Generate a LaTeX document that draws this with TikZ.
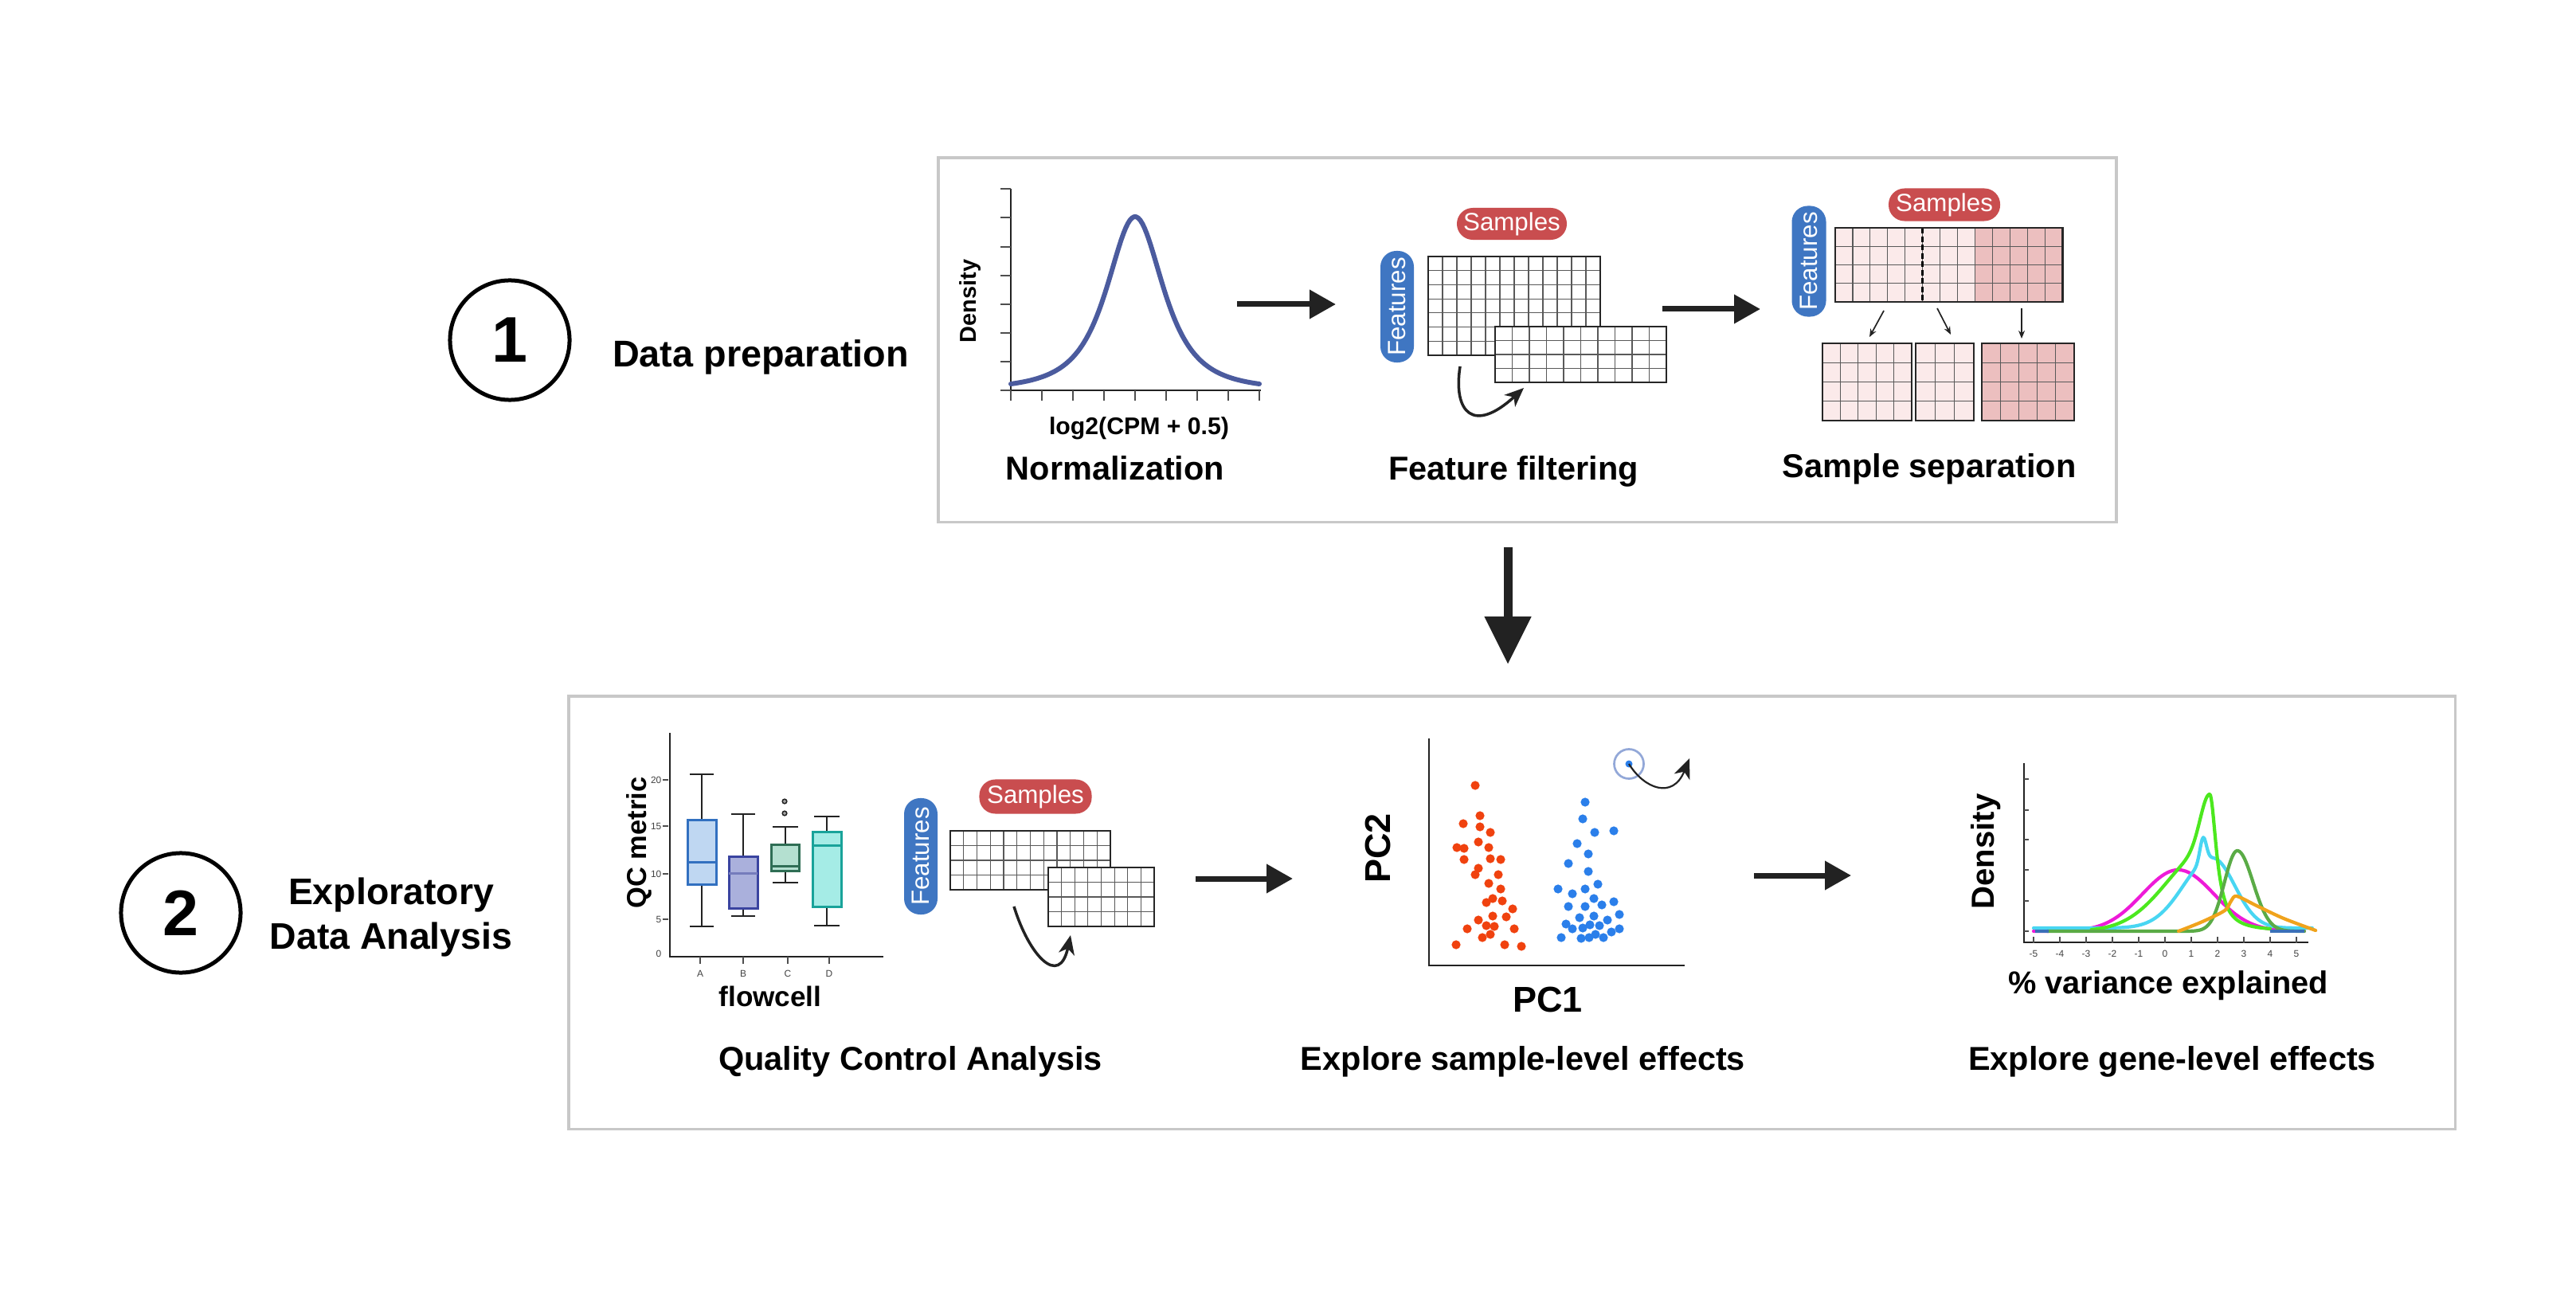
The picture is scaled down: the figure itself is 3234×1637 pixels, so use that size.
\documentclass[tikz,border=0pt]{standalone}
\usepackage{fontspec}
\setmainfont{Liberation Sans}
\usetikzlibrary{arrows.meta}
\definecolor{boxgray}{HTML}{C8C8C8}
\definecolor{ink}{HTML}{222222}
\definecolor{pillred}{HTML}{C94D4F}
\definecolor{pillblue}{HTML}{3F76C2}
\definecolor{normblue}{HTML}{4B5B9E}
\definecolor{lpink}{HTML}{FBEAEA}
\definecolor{dpink}{HTML}{ECBFBF}
\definecolor{dotred}{HTML}{F0420F}
\definecolor{dotblue}{HTML}{2B7FEA}
\definecolor{ringblue}{HTML}{93A8D8}
\definecolor{cmag}{HTML}{EE1AD8}
\definecolor{ccyan}{HTML}{48D6F2}
\definecolor{cgreen}{HTML}{4CE81E}
\definecolor{cdgreen}{HTML}{5AAB46}
\definecolor{corange}{HTML}{F0A31C}
\definecolor{cblue}{HTML}{3A70B8}
\definecolor{bxAf}{HTML}{BFD7F2}\definecolor{bxAs}{HTML}{3270C0}
\definecolor{bxBf}{HTML}{AAB0DC}\definecolor{bxBs}{HTML}{3A44A0}
\definecolor{bxCf}{HTML}{B4E0D0}\definecolor{bxCs}{HTML}{2F6E55}
\definecolor{bxDf}{HTML}{A5ECE6}\definecolor{bxDs}{HTML}{19A39A}

% interior lines of a grid: x1 y1 x2 y2 ncols nrows
\newcommand{\gridinner}[6]{%
  \pgfmathtruncatemacro{\gcm}{#5-1}%
  \pgfmathtruncatemacro{\grm}{#6-1}%
  \foreach \gi in {1,...,\gcm}{\draw[gridln] ({#1+(#3-#1)*\gi/#5},#2) -- ({#1+(#3-#1)*\gi/#5},#4);}%
  \foreach \gj in {1,...,\grm}{\draw[gridln] (#1,{#2+(#4-#2)*\gj/#6}) -- (#3,{#2+(#4-#2)*\gj/#6});}%
}
% name x1 y1 x2 y2 ncols nrows fill
\newcommand{\matrixgrid}[8]{%
  \node[gridbox, fill=#8, minimum width={(#4-#2)*0.01cm}, minimum height={(#5-#3)*0.01cm}] (#1) at (#2,#3) {};%
  \gridinner{#2}{#3}{#4}{#5}{#6}{#7}%
  \draw[gridbd] (#1.north west) rectangle (#1.south east);%
}

\begin{document}
\begin{tikzpicture}[x=0.01cm, y=-0.01cm,
  panel/.style={draw=boxgray, line width=0.035cm, inner sep=0, outer sep=0, anchor=north west},
  lbl/.style={font=\bfseries\fontsize{#1}{#1}\selectfont, inner sep=0, outer sep=0, anchor=base},
  rlbl/.style={font=\bfseries\fontsize{#1}{#1}\selectfont, inner sep=0, outer sep=0, rotate=90},
  numc/.style={circle, draw=black, line width=0.05cm, minimum size=1.50cm, inner sep=0, font=\bfseries\fontsize{23}{23}\selectfont},
  pill/.style={rounded corners=0.2cm, inner sep=0, text=white, font=\fontsize{8.9}{8.9}\selectfont},
  bigarr/.style={draw=ink, line width=0.07cm, -{Triangle[length=0.33cm,width=0.35cm]}},
  gridln/.style={draw=black!65, line width=0.011cm},
  gridbd/.style={draw=black!85, line width=0.028cm},
  gridbox/.style={inner sep=0, outer sep=0, anchor=north west, draw=none},
  curvarr/.style={draw=ink, line width=0.035cm, -{Stealth[length=0.24cm,width=0.2cm,inset=0.07cm]}},
  thinarr/.style={draw=ink, line width=0.017cm, -{Stealth[length=0.1cm,width=0.08cm]}},
  axln/.style={draw=ink, line width=0.028cm},
  tk/.style={draw=ink!80, line width=0.012cm},
  dens/.style={line width=0.042cm, line cap=round, line join=round},
  whisk/.style={draw=ink, line width=0.028cm},
  ticklbl/.style={font=\fontsize{3.4}{3.4}\selectfont, inner sep=0, text=ink!85},
  dot/.style={radius=0.056cm}
]
\useasboundingbox (0,0) rectangle (3234,1637);
\fill[white] (0,0) rectangle (3234,1637);

% ---------- section headings ----------
\node[numc] (c1) at (640,427) {1};
\node[lbl=13.3] (h1) at (955,461) {Data preparation};
\node[numc] (c2) at (227,1146) {2};
\node[lbl=13.2] (h2a) at (491,1135) {Exploratory};
\node[lbl=13.2] (h2b) at (491,1191) {Data Analysis};

% ---------- panels ----------
\node[panel, minimum width=14.78cm, minimum height=4.57cm] (box1) at (1178,198) {};
\node[panel, minimum width=23.67cm, minimum height=5.43cm] (box2) at (714,874) {};

% big down arrow
\coordinate (d1) at (1893,687);
\coordinate (d2) at (1893,834);
\draw[draw=ink, line width=0.11cm, -{Triangle[length=0.6cm,width=0.56cm]}] (d1) -- (d2);

% ---------- Normalization ----------
\draw[axln] (1269,237) -- (1269,490) -- (1583,490);
\foreach \yy in {237,273,310,346,382,418,454,490} \draw[tk] (1256,\yy) -- (1269,\yy);
\foreach \i in {0,...,8} \draw[tk] ({1269+39*\i},490) -- ({1269+39*\i},503);
\draw[normblue, dens, line width=0.06cm] plot[domain=1269:1581, samples=120] (\x,{490-218/pow(1+((\x-1425)/55)^2,1.5)});
\node[rlbl=8.2] (dens1) at (1218,378) {Density};
\node[lbl=8.6] (xl1) at (1430,546) {log2(CPM + 0.5)};
\node[lbl=11.8] (tNorm) at (1400,603) {Normalization};

\coordinate (a1s) at (1553,382);
\coordinate (a1e) at (1677,382);
\draw[bigarr] (a1s) -- (a1e);

% ---------- Feature filtering ----------
\node[pill, fill=pillred, minimum width=1.38cm, minimum height=0.40cm] (ffS) at (1898,281) {Samples};
\node[pill, fill=pillblue, rotate=90, minimum width=1.40cm, minimum height=0.42cm] (ffF) at (1754,385) {Features};
\matrixgrid{ffA}{1793}{322}{2009}{446}{12}{7}{white}
\matrixgrid{ffB}{1877}{410}{2092}{480}{10}{4}{white}
\coordinate (ffc0) at (1833,460);
\coordinate (ffc1) at (1913,487);
\draw[curvarr] (ffc0) .. controls (1824,518) and (1850,545) .. (ffc1);
\node[lbl=11.8] (tFF) at (1900,603) {Feature filtering};

\coordinate (a2s) at (2087,388);
\coordinate (a2e) at (2210,388);
\draw[bigarr] (a2s) -- (a2e);

% ---------- Sample separation ----------
\node[pill, fill=pillred, minimum width=1.40cm, minimum height=0.41cm] (ssS) at (2441,257) {Samples};
\node[pill, fill=pillblue, rotate=90, minimum width=1.39cm, minimum height=0.43cm] (ssF) at (2271,328) {Features};
\node[gridbox, fill=lpink, minimum width=2.85cm, minimum height=0.93cm] (ssM) at (2304,286) {};
\fill[dpink] (2479.4,286) rectangle (2589,379);
\gridinner{2304}{286}{2589}{379}{13}{4}
\draw[black, line width=0.025cm, dash pattern=on 0.07cm off 0.035cm] (2413.6,286) -- (2413.6,379);
\draw[gridbd] (ssM.north west) rectangle (ssM.south east);
\matrixgrid{ssL}{2288}{431}{2400}{528}{5}{4}{lpink}
\matrixgrid{ssC}{2405}{431}{2478}{528}{3}{4}{lpink}
\matrixgrid{ssR}{2488}{431}{2604}{528}{5}{4}{dpink}
\coordinate (sa1) at (2365,390); \coordinate (sb1) at (2347,423);
\coordinate (sa2) at (2432,387); \coordinate (sb2) at (2449,420);
\coordinate (sa3) at (2538,387); \coordinate (sb3) at (2538,425);
\draw[thinarr] (sa1) -- (sb1);
\draw[thinarr] (sa2) -- (sb2);
\draw[thinarr] (sa3) -- (sb3);
\node[lbl=11.8] (tSS) at (2422,600) {Sample separation};

% ---------- QC boxplot ----------
\draw[axln] (841,920) -- (841,1201) -- (1109,1201);
\foreach \v/\yy in {20/979,15/1037,10/1097,5/1154} {
  \draw[tk] (832,\yy) -- (839,\yy);
  \node[ticklbl, anchor=east] at (831,\yy) {\v};
}
\node[ticklbl, anchor=east] at (831,1197) {0};
\foreach \xx/\l in {879/A,933/B,989/C,1041/D} {
  \draw[tk] (\xx,1201) -- (\xx,1210);
  \node[ticklbl] at (\xx,1222) {\l};
}
% whiskers
\draw[whisk] (881,972) -- (881,1163) (866,972) -- (896,972) (866,1163) -- (896,1163);
\draw[whisk] (933,1022) -- (933,1150) (918,1022) -- (948,1022) (918,1150) -- (948,1150);
\draw[whisk] (986,1038) -- (986,1108) (970,1038) -- (1002,1038) (970,1108) -- (1002,1108);
\draw[whisk] (1038,1025) -- (1038,1162) (1022,1025) -- (1054,1025) (1022,1162) -- (1054,1162);
% boxes
\filldraw[fill=bxAf, draw=bxAs, line width=0.03cm] (863,1029) rectangle (899,1110);
\draw[bxAs, line width=0.03cm] (863,1082) -- (899,1082);
\filldraw[fill=bxBf, draw=bxBs, line width=0.03cm] (915,1075) rectangle (951,1140);
\draw[bxBs!70, line width=0.03cm] (915,1096) -- (951,1096);
\filldraw[fill=bxCf, draw=bxCs, line width=0.03cm] (968,1060) rectangle (1003,1093);
\draw[bxCs, line width=0.03cm] (968,1087) -- (1003,1087);
\filldraw[fill=bxDf, draw=bxDs, line width=0.03cm] (1020,1044) rectangle (1056,1138);
\draw[bxDs, line width=0.03cm] (1020,1061) -- (1056,1061);
\filldraw[fill=black!35, draw=ink, line width=0.015cm] (985,1006) circle[radius=0.028cm];
\filldraw[fill=black!35, draw=ink, line width=0.015cm] (985,1021) circle[radius=0.028cm];
\node[rlbl=9.8] (qcy) at (802,1058) {QC metric};
\node[lbl=10] (qcx) at (967,1263) {flowcell};

% QC matrices
\node[pill, fill=pillred, minimum width=1.41cm, minimum height=0.43cm] (qcS) at (1300,1000) {Samples};
\node[pill, fill=pillblue, rotate=90, minimum width=1.46cm, minimum height=0.42cm] (qcF) at (1156,1075) {Features};
\matrixgrid{qcA}{1193}{1043}{1394}{1117}{12}{4}{white}
\matrixgrid{qcB}{1316}{1089}{1449}{1163}{8}{4}{white}
\coordinate (qc0) at (1273,1138);
\coordinate (qc1) at (1344,1174);
\draw[curvarr] (qc0) .. controls (1292,1200) and (1330,1240) .. (qc1);
\node[lbl=11.8] (tQC) at (1143,1343) {Quality Control Analysis};

\coordinate (a3s) at (1501,1103);
\coordinate (a3e) at (1623,1103);
\draw[bigarr] (a3s) -- (a3e);

% ---------- PCA ----------
\draw[axln] (1794,927) -- (1794,1212) -- (2115,1212);
\foreach \xx/\yy in {1852/986,1858/1024,1837/1034,1858/1038,1871/1045,1856/1057,1829/1064,1838/1065,1869/1064,1838/1079,1871/1078,1884/1079,1856/1090,1852/1098,1881/1098,1869/1109,1884/1116,1874/1128,1866/1133,1886/1131,1899/1141,1874/1150,1891/1151,1856/1155,1866/1162,1876/1163,1842/1166,1901/1166,1861/1177,1871/1173,1828/1186,1889/1186,1910/1188}
  \fill[dotred] (\xx,\yy) circle[dot];
\foreach \xx/\yy in {1990/1007,1987/1028,2002/1045,2026/1043,1980/1059,1994/1072,1969/1084,1994/1094,2006/1110,1956/1116,1990/1116,1974/1122,2001/1128,2011/1136,2026/1132,1969/1138,1990/1138,2033/1148,1983/1152,2001/1150,2018/1155,1966/1160,1996/1161,2008/1162,1974/1166,1987/1165,2033/1166,2023/1170,2003/1173,1960/1177,1985/1178,1995/1177,2013/1177}
  \fill[dotblue] (\xx,\yy) circle[dot];
\coordinate (hl) at (2045,959);
\fill[dotblue] (hl) circle[radius=0.045cm];
\draw[ringblue, line width=0.027cm] (hl) circle[radius=0.185cm];
\coordinate (hlt) at (2121,952);
\draw[draw=ink, line width=0.022cm, -{Stealth[length=0.25cm,width=0.21cm,inset=0.07cm]}] (hl) .. controls (2064,990) and (2100,1004) .. (hlt);
\node[rlbl=12.8] (pc2) at (1730,1065) {PC2};
\node[lbl=12.8] (pc1) at (1943,1270) {PC1};
\node[lbl=11.8] (tPCA) at (1912,1343) {Explore sample-level effects};

\coordinate (a4s) at (2202,1099);
\coordinate (a4e) at (2324,1099);
\draw[bigarr] (a4s) -- (a4e);

% ---------- gene-level density ----------
\draw[axln] (2541,958) -- (2541,1183) -- (2898,1183);
\foreach \yy in {978,1017,1054,1092,1131,1169} \draw[tk] (2541,\yy) -- (2547,\yy);
\foreach \v in {-5,...,5} {
  \draw[tk] ({2718+33*\v},1176) -- ({2718+33*\v},1184);
  \node[ticklbl] at ({2718+33*\v},1197) {\v};
}
\draw[dens, cmag] plot[domain=-5:5.3, samples=120] ({2718+33*\x},{1169-77*exp(-((\x-0.5)^2)/3.7)});
\draw[dens, ccyan] plot[domain=-5:1.8, samples=160] ({2718+33*\x},{1165-88*exp(-((\x-1.8)^2)/2.42)-30*exp(-((\x-1.45)^2)/0.0288)})
  -- plot[domain=1.8:5.6, samples=80] ({2718+33*\x},{1165-88*exp(-((\x-1.8)^2)/1.445)-30*exp(-((\x-1.45)^2)/0.0288)});
\draw[dens, cgreen] plot[domain=-2.8:1.7, samples=120] ({2718+33*\x},{1169-172*(0.4*exp(-((\x-1.7)^2)/0.245)+0.6*exp(-((\x-1.7)^2)/5.12))})
  -- plot[domain=1.7:4, samples=80] ({2718+33*\x},{1169-172/(1+((\x-1.7)/0.31)^2)});
\draw[dens, cdgreen] (2570,1169) -- plot[domain=0.5:2.75, samples=60] ({2718+33*\x},{1169-101*exp(-((\x-2.75)^2)/0.48)})
  -- plot[domain=2.75:5.3, samples=60] ({2718+33*\x},{1169-101*exp(-((\x-2.75)^2)/0.72)});
\draw[dens, corange] plot[smooth, tension=0.5] coordinates {(2735,1169) (2765,1157) (2793,1143) (2801,1131) (2808,1125) (2833,1137) (2867,1153) (2907,1168)};
\draw[cblue, line width=0.042cm] (2555,1169) -- (2572,1169);
\draw[cblue, line width=0.042cm] (2850,1169) -- (2893,1169);
\node[rlbl=11.4] (gy) at (2493,1069) {Density};
\node[lbl=11.3] (gx) at (2722,1247) {\% variance explained};
\node[lbl=11.8] (tGene) at (2727,1343) {Explore gene-level effects};
\end{tikzpicture}
\end{document}
